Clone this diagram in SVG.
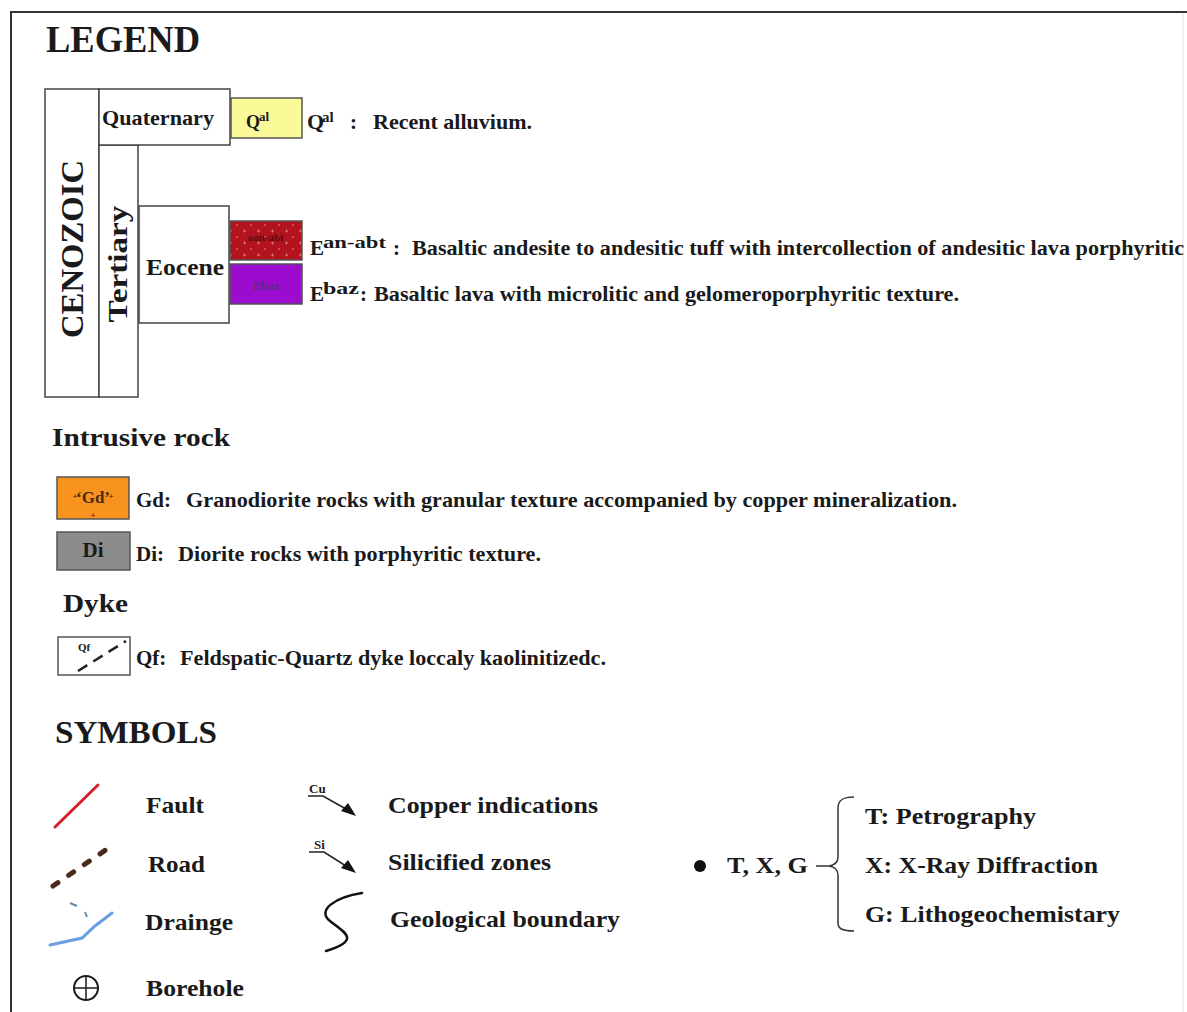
<svg xmlns="http://www.w3.org/2000/svg" width="1187" height="1012" viewBox="0 0 1187 1012">
<style>
text{font-family:"Liberation Serif","Times New Roman",serif;font-weight:bold;fill:#1a1a1a}
.box{fill:#fff;stroke:#444;stroke-width:1.5}
.sw{stroke:#555;stroke-width:1.5}
.b{font-size:21px}
.lbl{font-size:25px}
.sup{font-size:15px}
.h{font-size:31px}
</style>
<defs>
<pattern id="dots" width="14" height="12" patternUnits="userSpaceOnUse">
<rect width="14" height="12" fill="#b3121f"/>
<path d="M5,3 h3 M6.5,1.5 v3" stroke="#e07070" stroke-width="1"/>
<path d="M12,9 h2 M13,8 v2" stroke="#d86060" stroke-width="1"/>
</pattern>
</defs>
<rect width="1187" height="1012" fill="#fff"/>
<path d="M11,1012 V12 H1187" fill="none" stroke="#333" stroke-width="2"/>
<line x1="1183" y1="14" x2="1183" y2="1012" stroke="#e2e2e2" stroke-width="1"/>

<g id="title"><text x="46" y="52" font-size="38" textLength="154" lengthAdjust="spacingAndGlyphs">LEGEND</text></g>

<g id="cenozoic">
<rect class="box" x="45" y="89" width="54" height="308"/>
<text font-size="32" transform="translate(83,249) rotate(-90)" text-anchor="middle" textLength="178" lengthAdjust="spacingAndGlyphs">CENOZOIC</text>
</g>
<g id="tertiary">
<rect class="box" x="99" y="145" width="39" height="252"/>
<text font-size="27" transform="translate(127,264) rotate(-90)" text-anchor="middle" textLength="117" lengthAdjust="spacingAndGlyphs">Tertiary</text>
</g>
<g id="quaternary">
<rect class="box" x="99" y="89" width="131" height="56"/>
<text x="102" y="125" font-size="20" textLength="112" lengthAdjust="spacingAndGlyphs">Quaternary</text>
</g>
<g id="eocene">
<rect class="box" x="139" y="206" width="90" height="117"/>
<text x="146" y="275" font-size="23" textLength="78" lengthAdjust="spacingAndGlyphs">Eocene</text>
</g>

<g id="qal">
<rect class="sw" x="231" y="98" width="71" height="40" fill="#fafa98"/>
<text x="246" y="128" font-size="18">Q</text><text x="259" y="121" font-size="13">al</text>
<text x="307" y="129" font-size="22">Q</text><text x="322" y="122" class="sup">al</text>
<text x="350" y="129" class="b">:</text>
<text x="373" y="129" class="b" textLength="159" lengthAdjust="spacingAndGlyphs">Recent alluvium.</text>
</g>

<g id="ean-abt">
<rect class="sw" x="230" y="221" width="72" height="39" fill="url(#dots)"/>
<text x="266" y="241" font-size="11" text-anchor="middle" style="fill:#5a0c10">ean-abt</text>
<text x="310" y="255" font-size="21">E</text>
<text x="323" y="248" font-size="17" textLength="63" lengthAdjust="spacingAndGlyphs">an-abt</text>
<text x="393" y="255" class="b">:</text>
<text x="412" y="255" class="b" textLength="772" lengthAdjust="spacingAndGlyphs">Basaltic andesite to andesitic tuff with intercollection of andesitic lava porphyritic</text>
</g>

<g id="ebaz">
<rect class="sw" x="230" y="264" width="72" height="40" fill="#9b0ccf"/>
<text x="266" y="290" font-size="12" text-anchor="middle" style="fill:#5a2a80">Ebaz</text>
<text x="310" y="301" font-size="21">E</text>
<text x="323" y="294" font-size="17" textLength="36" lengthAdjust="spacingAndGlyphs">baz</text>
<text x="360" y="301" class="b">:</text>
<text x="374" y="301" class="b" textLength="585" lengthAdjust="spacingAndGlyphs">Basaltic lava with microlitic and gelomeroporphyritic texture.</text>
</g>

<g id="intrusive"><text x="52" y="446" class="lbl" textLength="178" lengthAdjust="spacingAndGlyphs">Intrusive rock</text></g>

<g id="gd">
<rect class="sw" x="57" y="477" width="72" height="42" fill="#f7931e" stroke="#8a5a20"/>
<text x="93" y="503" font-size="17" text-anchor="middle" style="fill:#4a2a10">‘Gd’</text>
<text x="75" y="499" font-size="9" text-anchor="middle" style="fill:#4a2a10">+</text>
<text x="111" y="499" font-size="9" text-anchor="middle" style="fill:#4a2a10">+</text>
<text x="93" y="518" font-size="9" text-anchor="middle" style="fill:#4a2a10">+</text>
<text x="136" y="507" class="b">Gd:</text>
<text x="186" y="507" class="b" textLength="771" lengthAdjust="spacingAndGlyphs">Granodiorite rocks with granular texture accompanied by copper mineralization.</text>
</g>

<g id="di">
<rect class="sw" x="57" y="532" width="73" height="38" fill="#8c8c8c"/>
<text x="93" y="557" font-size="21" text-anchor="middle">Di</text>
<text x="136" y="561" class="b">Di:</text>
<text x="178" y="561" class="b" textLength="363" lengthAdjust="spacingAndGlyphs">Diorite rocks with porphyritic texture.</text>
</g>

<g id="dyke"><text x="63" y="612" class="lbl" textLength="65" lengthAdjust="spacingAndGlyphs">Dyke</text></g>

<g id="qf">
<rect class="sw" x="58" y="637" width="72" height="38" fill="#fff"/>
<text x="78" y="651" font-size="11">Qf</text>
<line x1="78" y1="671" x2="126" y2="641" stroke="#222" stroke-width="2.5" stroke-dasharray="11,7"/>
<text x="136" y="665" class="b">Qf:</text>
<text x="180" y="665" class="b" textLength="426" lengthAdjust="spacingAndGlyphs">Feldspatic-Quartz dyke loccaly kaolinitizedc.</text>
</g>

<g id="symbols-title"><text x="55" y="743" class="h" textLength="162" lengthAdjust="spacingAndGlyphs">SYMBOLS</text></g>

<g id="fault">
<line x1="55" y1="827" x2="98" y2="785" stroke="#d2202e" stroke-width="3" stroke-linecap="round"/>
<text x="146" y="813" font-size="24" textLength="58" lengthAdjust="spacingAndGlyphs">Fault</text>
</g>
<g id="road">
<line x1="53" y1="886" x2="110" y2="847" stroke="#4a2a1a" stroke-width="5" stroke-dasharray="6,13" stroke-linecap="round"/>
<text x="148" y="872" font-size="24" textLength="57" lengthAdjust="spacingAndGlyphs">Road</text>
</g>
<g id="drainge">
<polyline points="50,945 82,938 95,926 112,913" fill="none" stroke="#6a9ee0" stroke-width="3" stroke-linecap="round"/>
<line x1="70" y1="903" x2="77" y2="906" stroke="#6a8aaa" stroke-width="2"/>
<line x1="85" y1="912" x2="87" y2="917" stroke="#6a8aaa" stroke-width="2"/>
<text x="145" y="930" font-size="24" textLength="88" lengthAdjust="spacingAndGlyphs">Drainge</text>
</g>
<g id="borehole">
<circle cx="86" cy="988" r="12" fill="none" stroke="#1a1a1a" stroke-width="2"/>
<line x1="74" y1="988" x2="98" y2="988" stroke="#1a1a1a" stroke-width="1.5"/>
<line x1="86" y1="976" x2="86" y2="1000" stroke="#1a1a1a" stroke-width="1.5"/>
<text x="146" y="996" font-size="24" textLength="98" lengthAdjust="spacingAndGlyphs">Borehole</text>
</g>

<g id="copper">
<text x="309" y="793" font-size="13">Cu</text>
<path d="M308,796 H323 L346,809" fill="none" stroke="#222" stroke-width="1.5"/>
<polygon points="356,816 341,811 348,803" fill="#111"/>
<text x="388" y="813" font-size="24" textLength="210" lengthAdjust="spacingAndGlyphs">Copper indications</text>
</g>
<g id="silicified">
<text x="314" y="849" font-size="13">Si</text>
<path d="M309,852 H324 L346,866" fill="none" stroke="#222" stroke-width="1.5"/>
<polygon points="356,873 341,868 348,860" fill="#111"/>
<text x="388" y="870" font-size="24" textLength="163" lengthAdjust="spacingAndGlyphs">Silicified zones</text>
</g>
<g id="geological-boundary">
<path d="M362,893 C336,897 316,910 330,921 C344,932 362,940 326,951" fill="none" stroke="#111" stroke-width="2.5" stroke-linecap="round"/>
<text x="390" y="927" font-size="24" textLength="230" lengthAdjust="spacingAndGlyphs">Geological boundary</text>
</g>

<g id="txg">
<circle cx="700" cy="866" r="6" fill="#111"/>
<text x="727" y="873" font-size="23" textLength="81" lengthAdjust="spacingAndGlyphs">T, X, G</text>
</g>
<g id="connectors">
<path d="M816,866 H829 M854,797 C843,797 838,800 838,808 V857 C838,862 835,865 829,866 C835,867 838,870 838,875 V923 C838,929 843,931 854,931" fill="none" stroke="#333" stroke-width="1.5"/>
</g>
<g id="petrography"><text x="865" y="824" font-size="23" textLength="171" lengthAdjust="spacingAndGlyphs">T: Petrography</text></g>
<g id="xrd"><text x="865" y="873" font-size="23" textLength="233" lengthAdjust="spacingAndGlyphs">X: X-Ray Diffraction</text></g>
<g id="litho"><text x="865" y="922" font-size="23" textLength="255" lengthAdjust="spacingAndGlyphs">G: Lithogeochemistary</text></g>
</svg>
